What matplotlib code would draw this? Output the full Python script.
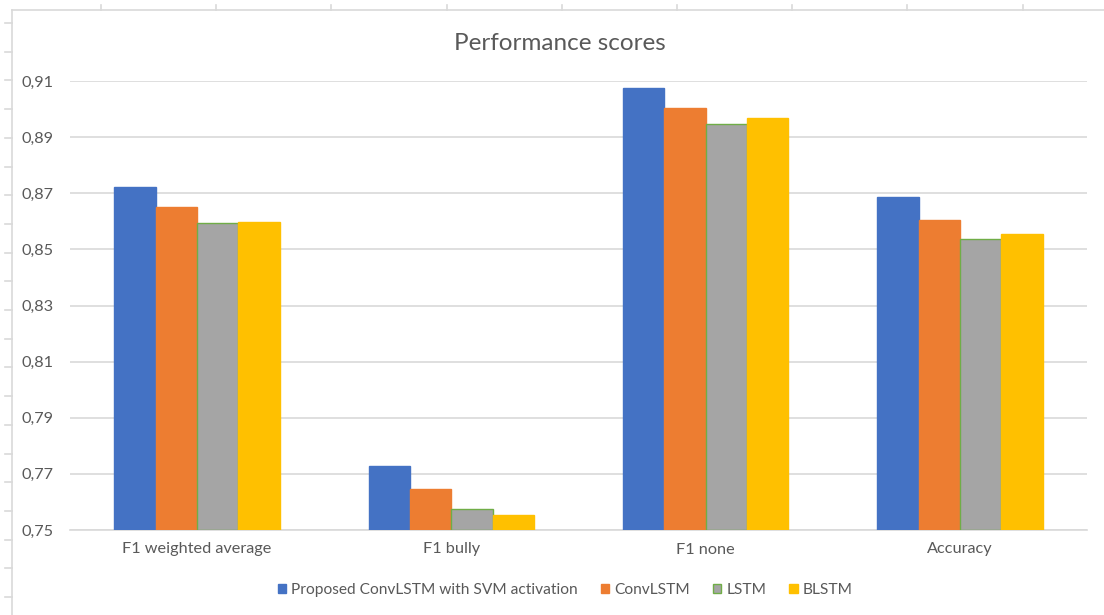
import matplotlib.pyplot as plt
import numpy as np
from matplotlib.lines import Line2D
from matplotlib.patches import Patch

plt.rcParams['font.family'] = ['Lato', 'DejaVu Sans']

# Scores per metric
categories = ['F1 weighted average', 'F1 bully', 'F1 none', 'Accuracy']
series_names = ['Proposed ConvLSTM with SVM activation', 'ConvLSTM', 'LSTM', 'BLSTM']
proposed = [0.8721, 0.7728, 0.9076, 0.8686]
convlstm = [0.8650, 0.7645, 0.9003, 0.8604]
lstm = [0.8593, 0.7574, 0.8947, 0.8536]
blstm = [0.8599, 0.7553, 0.8967, 0.8554]
y_ticks = [0.75, 0.77, 0.79, 0.81, 0.83, 0.85, 0.87, 0.89, 0.91]

colors = ['#4472C4', '#ED7D31', '#A5A5A5', '#FFC000']
edges = ['#4472C4', '#ED7D31', '#70AD47', '#FFC000']
text_color = '#595959'
grid_color = '#D9D9D9'

W, H = 1104, 615
fig = plt.figure(figsize=(W / 100, H / 100), dpi=100)
fig.patch.set_facecolor('white')

# sheet cell borders peeking around the chart frame
frame_x, frame_y = 12, 10
fig.add_artist(Line2D([frame_x / W, frame_x / W], [0, 1 - frame_y / H],
                      transform=fig.transFigure, color='#D9D9D9', lw=1.2))
fig.add_artist(Line2D([frame_x / W, 1], [1 - frame_y / H, 1 - frame_y / H],
                      transform=fig.transFigure, color='#D9D9D9', lw=1.2))
for tx in np.arange(101, W, 115.2):
    fig.add_artist(Line2D([tx / W, tx / W], [1 - 5 / H, 1 - frame_y / H],
                          transform=fig.transFigure, color='#D9D9D9', lw=1.2))
for ty in np.arange(23, H, 28.7):
    fig.add_artist(Line2D([5 / W, frame_x / W], [1 - ty / H, 1 - ty / H],
                          transform=fig.transFigure, color='#D9D9D9', lw=1.2))

left, right, top, bottom = 70, 1087, 81, 530
ax = fig.add_axes([left / W, 1 - bottom / H, (right - left) / W, (bottom - top) / H])

x = np.arange(len(categories))
width = 0.1625
data = [proposed, convlstm, lstm, blstm]
for i, vals in enumerate(data):
    offs = (i - 1.5) * width
    ax.bar(x + offs, np.array(vals) - 0.75, width, bottom=0.75,
           color=colors[i], edgecolor=edges[i], linewidth=1.0, zorder=3)

ax.set_xlim(-0.5, len(categories) - 0.5)
ax.set_ylim(0.75, 0.91)
ax.set_yticks(y_ticks)
ax.set_yticklabels([f'{v:.2f}'.replace('.', ',') for v in y_ticks])
ax.set_xticks(x)
ax.set_xticklabels(categories)
ax.tick_params(axis='both', length=0, colors=text_color, labelsize=11.7)
ax.tick_params(axis='y', pad=12)
ax.tick_params(axis='x', pad=9)
ax.grid(axis='y', color=grid_color, linewidth=1.2, zorder=0)
for s in ['top', 'right', 'left']:
    ax.spines[s].set_visible(False)
ax.spines['bottom'].set_color(grid_color)
ax.spines['bottom'].set_linewidth(1.2)

fig.text(560 / W, 1 - 43 / H, 'Performance scores', ha='center', va='center',
         fontsize=17.5, color=text_color)

handles = [Patch(facecolor=colors[i], edgecolor=edges[i], linewidth=1.0)
           for i in range(4)]
fig.legend(handles, series_names, loc='center', bbox_to_anchor=(565 / W, 1 - 590 / H),
           ncol=4, frameon=False, fontsize=11.2, labelcolor=text_color,
           handlelength=0.55, handleheight=0.55, handletextpad=0.3, columnspacing=1.5)

fig.savefig('out.png', dpi=100, facecolor='white')
